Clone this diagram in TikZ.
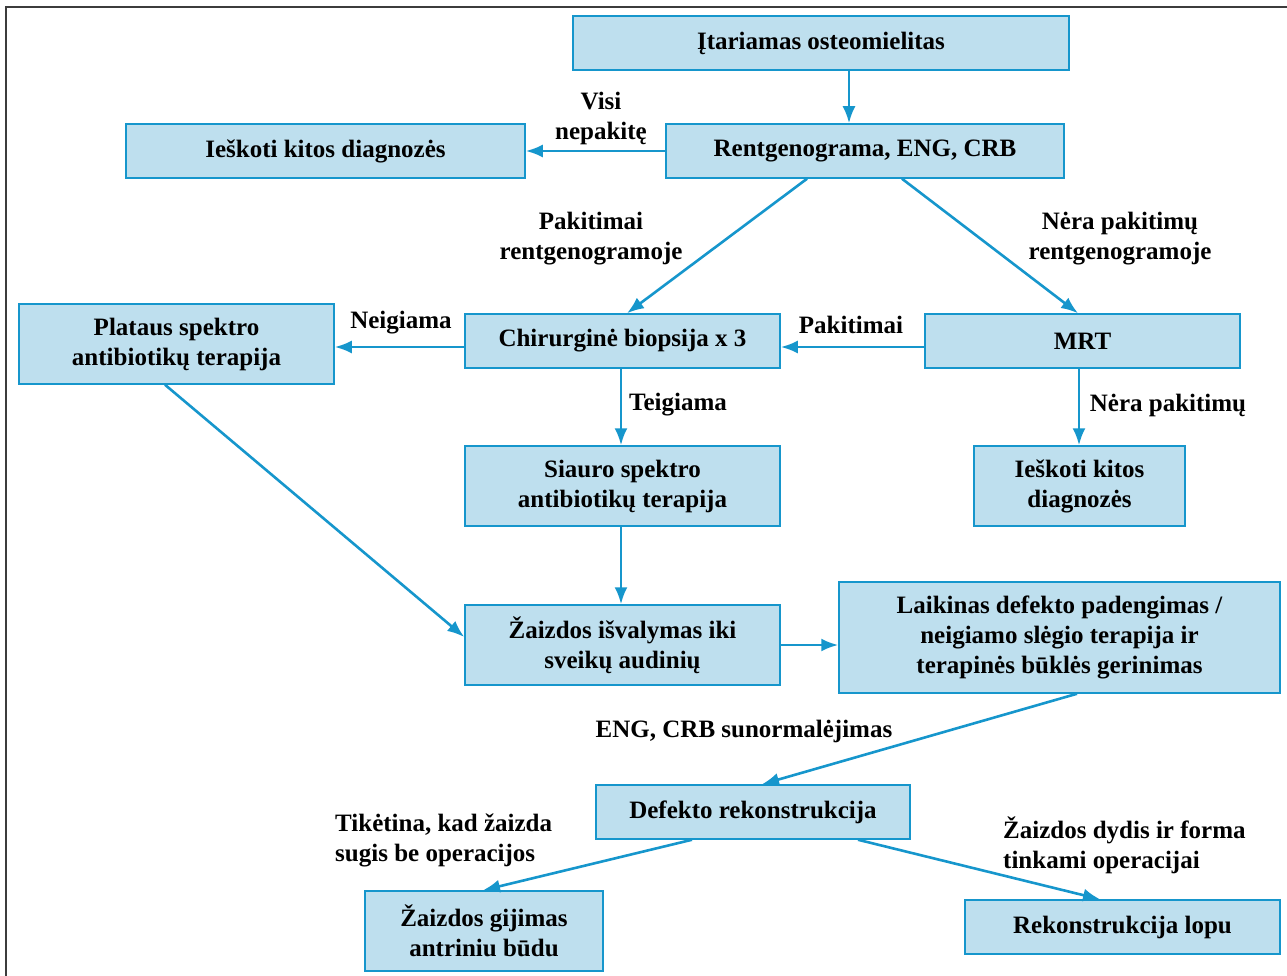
\documentclass[tikz,border=0pt]{standalone}
\usepackage{fontspec}
\setmainfont{Liberation Serif}
\usetikzlibrary{arrows.meta}
\definecolor{boxfill}{RGB}{190,223,238}
\definecolor{boxline}{RGB}{22,150,204}
\definecolor{frameline}{RGB}{60,60,60}
\newcommand{\txtsize}{\fontsize{25}{30}\selectfont\bfseries}

\begin{document}
\begin{tikzpicture}[x=1pt,y=-1pt,
  box/.style={draw=boxline, line width=1.5pt, fill=boxfill, inner sep=0pt,
    align=center, font=\txtsize},
  lbl/.style={inner sep=0pt, align=center, font=\txtsize},
  arr/.style={draw=boxline, line width=2.6pt, -{Latex[length=17pt,width=13pt]}}]

\useasboundingbox (0,0) rectangle (1287,976);
\draw[frameline, line width=2.2pt] (6,976) -- (6,7) -- (1287,7);

\node (1) at (821,43) [box, minimum width=496, minimum height=54] {Įtariamas osteomielitas};
\node (2) at (865,151) [box, minimum width=398, minimum height=54] {Rentgenograma, ENG, CRB};
\node (3) at (325.5,151) [box, minimum width=399, minimum height=54] {Ieškoti kitos diagnozės};
\node (4) at (176.5,344) [box, minimum width=315, minimum height=80] {Plataus spektro\\antibiotikų terapija};
\node (5) at (622.5,341) [box, minimum width=315, minimum height=54] {Chirurginė biopsija x 3};
\node (6) at (1082.5,341) [box, minimum width=315, minimum height=54] {MRT};
\node (7) at (622.5,486) [box, minimum width=315, minimum height=80] {Siauro spektro\\antibiotikų terapija};
\node (8) at (1079.5,486) [box, minimum width=211, minimum height=80] {Ieškoti kitos\\diagnozės};
\node (9) at (622.5,645) [box, minimum width=315, minimum height=80] {Žaizdos išvalymas iki\\sveikų audinių};
\node (10) at (1059.5,637.5) [box, minimum width=441, minimum height=111] {Laikinas defekto padengimas /\\neigiamo slėgio terapija ir\\terapinės būklės gerinimas};
\node (11) at (753,812) [box, minimum width=314, minimum height=54] {Defekto rekonstrukcija};
\node (12) at (484,931) [box, minimum width=238, minimum height=80] {Žaizdos gijimas\\antriniu būdu};
\node (13) at (1122.5,927) [box, minimum width=315, minimum height=54] {Rekonstrukcija lopu};

\node (l1) at (601,118) [lbl] {Visi\\nepakitę};
\node (l2) at (591,239) [lbl] {Pakitimai\\rentgenogramoje};
\node (l3) at (1120,239) [lbl] {Nėra pakitimų\\rentgenogramoje};
\node (l4) at (401,323) [lbl] {Neigiama};
\node (l5) at (851,325) [lbl] {Pakitimai};
\node (l6) at (678,405) [lbl] {Teigiama};
\node (l7) at (1168,405) [lbl] {Nėra pakitimų};
\node (l8) at (744,731) [lbl] {ENG, CRB sunormalėjimas};
\node (l9) at (335,840) [lbl, anchor=west, align=left] {Tikėtina, kad žaizda\\sugis be operacijos};
\node (l10) at (1003,845) [lbl, anchor=west, align=left] {Žaizdos dydis ir forma\\tinkami operacijai};

\draw[arr] (1.south -| 849,0) -- (2.north -| 849,0);
\draw[arr] (2.west) -- (3.east);
\draw[arr] (2.south -| 807,0) -- (5.north -| 627,0);
\draw[arr] (2.south -| 902,0) -- (6.north -| 1078,0);
\draw[arr] (6.west |- 0,347) -- (5.east |- 0,347);
\draw[arr] (5.west |- 0,347) -- (4.east |- 0,347);
\draw[arr] (5.south -| 621,0) -- (7.north -| 621,0);
\draw[arr] (6.south -| 1079,0) -- (8.north -| 1079,0);
\draw[arr] (7.south -| 621,0) -- (9.north -| 621,0);
\draw[arr] (4.south -| 165,0) -- (9.west |- 0,637);
\draw[arr] (9.east) -- (10.west |- 9.east);
\draw[arr] (10.south -| 1077,0) -- (11.north -| 762,0);
\draw[arr] (11.south -| 692,0) -- (12.north -| 483,0);
\draw[arr] (11.south -| 858,0) -- (13.north -| 1100,0);

\end{tikzpicture}
\end{document}
